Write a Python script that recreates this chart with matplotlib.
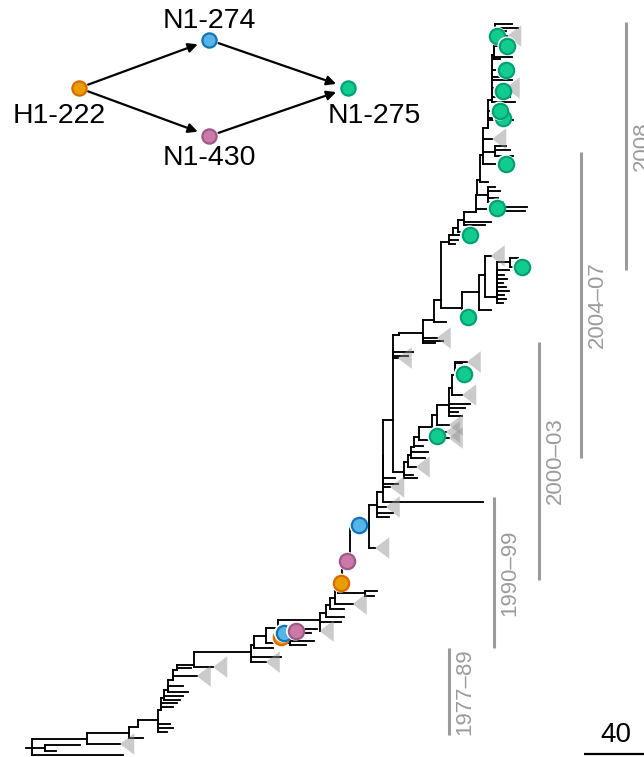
import matplotlib
matplotlib.use("Agg")
import matplotlib.pyplot as plt
from matplotlib.patches import Polygon

plt.rcParams["font.family"] = ["Liberation Sans", "DejaVu Sans"]

# tree nodes: (name, parent, divergence, tip position); tips have no name
basal = [
    ("r", None, 1, 1.8),
    ("", "r", 62, 0.4),
    ("a", "r", 10, 1.8),
    ("", "a", 33, 2.4),
    ("", "a", 17, 1.2),
    ("b", "r", 38, 3.6),
    ("", "b", 60, 2.6),
    ("c", "b", 66, 4.8),
    ("", "c", 75, 3.8),
    ("d", "c", 72, 6.0),
    ("e", "d", 85, 7.4),
    ("", "e", 93, 6.6),
    ("", "e", 95, 5.8),
    ("", "e", 91, 5.0),
    ("f", "e", 87, 9.4),
    ("", "f", 95, 10.0),
    ("", "f", 98, 10.8),
    ("g", "f", 89, 11.8),
    ("", "g", 100, 11.4),
    ("", "g", 102, 12.2),
    ("h", "g", 92, 13.4),
    ("", "h", 105, 13.0),
    ("", "h", 102, 14.2),
    ("i", "h", 95, 15.4),
    ("", "i", 111, 16.2),
    ("j", "i", 98, 17.4),
    ("", "j", 107, 17.8),
    ("k", "j", 109, 18.4),
    ("", "k", 122, 18.0),
]

clade_1990s = [
    ("m", "k", 147, 21.0),
    ("", "m", 167, 20.0),
    ("", "m", 157, 19.0),
    ("n", "m", 149, 22.4),
    ("", "n", 162, 21.8),
    ("o", "n", 157, 24.2),
    ("p", "o", 173, 22.8),
    ("", "p", 189, 23.2),
    ("", "p", 184, 22.4),
    ("q", "o", 165, 25.8),
    ("s", "q", 180, 25.2),
    ("", "s", 191, 25.6),
    ("", "s", 187, 24.8),
    ("t", "q", 193, 27.4),
    ("", "t", 193, 25.2),
    ("", "t", 207, 27.0),
    ("u", "t", 197, 28.8),
    ("", "u", 209, 28.0),
    ("v", "u", 200, 30.4),
    ("", "v", 209, 29.6),
    ("w", "v", 203, 31.8),
    ("", "w", 215, 30.6),
    ("x", "w", 205, 33.4),
    ("y", "x", 223, 32.8),
    ("", "y", 231, 33.2),
    ("", "y", 229, 32.2),
    ("z", "x", 208, 36.4),
    ("A", "z", 213, 38.4),
    ("B", "A", 226, 46.4),
    ("", "B", 230, 41.8),
    ("C", "B", 231, 50.4),
    ("", "C", 242, 48.8),
    ("", "C", 239, 48.0),
    ("", "C", 237, 50.0),
    ("D", "C", 235, 53.0),
    ("", "D", 302, 51.0),
    ("", "D", 240, 54.0),
    ("E", "D", 235, 60.4),
    ("", "E", 243, 55.8),
    ("", "E", 245, 54.6),
    ("F", "E", 242, 67.4),
]

clade_2000s = [
    ("G", "F", 249, 57.0),
    ("", "G", 258, 55.8),
    ("", "G", 255, 56.4),
    ("G1", "G", 252, 59.0),
    ("", "G1", 257, 58.0),
    ("G2", "G1", 254, 60.4),
    ("", "G2", 263, 59.8),
    ("", "G2", 265, 61.0),
    ("G3", "G2", 256, 62.0),
    ("", "G3", 262, 62.2),
    ("G4", "G3", 259, 64.0),
    ("", "G4", 273, 63.4),
    ("G5", "G4", 268, 66.0),
    ("", "G5", 277, 65.0),
    ("", "G5", 279, 63.8),
    ("G6", "G5", 271, 68.4),
    ("", "G6", 279, 66.4),
    ("G7", "G6", 279, 70.4),
    ("", "G7", 285, 69.0),
    ("", "G7", 290, 69.8),
    ("", "G7", 293, 70.6),
    ("", "G7", 288, 68.2),
    ("G8", "G7", 281, 73.8),
    ("", "G8", 288, 72.4),
    ("G9", "G8", 283, 76.4),
    ("", "G9", 288, 76.6),
    ("", "G9", 288, 78.8),
    ("", "G9", 291, 79.0),
]

clade_2004 = [
    ("H", "F", 242, 81.8),
    ("", "H", 255, 81.0),
    ("", "H", 252, 80.2),
    ("", "H", 245, 79.8),
    ("I", "H", 246, 84.4),
    ("J", "I", 262, 84.8),
    ("", "J", 275, 83.2),
    ("", "J", 270, 82.8),
    ("", "J", 271, 83.8),
    ("K", "J", 269, 87.4),
    ("", "K", 277, 87.0),
    ("L", "K", 274, 91.4),
    ("M", "L", 288, 89.8),
    ("", "M", 291, 88.2),
    ("M1", "M", 299, 93.0),
    ("", "M1", 307, 89.4),
    ("M2", "M1", 303, 96.4),
    ("", "M2", 307, 100.2),
    ("M3", "M2", 311, 92.0),
    ("", "M3", 315, 90.8),
    ("", "M3", 317, 91.6),
    ("", "M3", 316, 92.4),
    ("", "M3", 319, 93.2),
    ("", "M3", 317, 94.0),
    ("", "M3", 315, 94.8),
    ("", "M3", 318, 95.6),
    ("", "M3", 316, 96.4),
    ("", "M3", 319, 97.4),
    ("M4", "M3", 320, 99.0),
    ("", "M4", 325, 99.8),
    ("", "M4", 328, 98.0),
]

clade_2008 = [
    ("N", "L", 279, 103.0),
    ("", "N", 285, 103.4),
    ("", "N", 283, 102.6),
    ("N1", "N", 282, 104.4),
    ("", "N1", 293, 104.4),
    ("N2", "N1", 285, 105.8),
    ("", "N2", 291, 105.0),
    ("N3", "N2", 289, 107.4),
    ("", "N3", 307, 107.0),
    ("", "N3", 303, 106.4),
    ("N4", "N3", 297, 109.0),
    ("N4b", "N4", 315, 109.6),
    ("", "N4b", 331, 110.0),
    ("", "N4b", 330, 109.2),
    ("N5", "N4", 298, 112.4),
    ("N5a", "N5", 305, 112.4),
    ("", "N5a", 315, 111.0),
    ("", "N5a", 312, 111.8),
    ("", "N5a", 313, 113.2),
    ("", "N5a", 310, 114.0),
    ("N6", "N5", 300, 115.4),
    ("", "N6", 305, 115.0),
    ("N7", "N6", 302, 120.4),
    ("", "N7", 317, 118.6),
    ("N7a", "N7", 310, 121.0),
    ("", "N7a", 322, 120.2),
    ("", "N7a", 320, 121.4),
    ("", "N7a", 317, 122.2),
    ("", "N7", 308, 123.6),
    ("N8", "N7", 305, 125.8),
    ("", "N8", 317, 127.8),
    ("", "N8", 322, 127.4),
    ("", "N8", 313, 129.2),
    ("N9", "N8", 308, 131.4),
    ("", "N9", 323, 131.0),
    ("", "N9", 320, 132.0),
    ("", "N9", 317, 133.8),
    ("N10", "N9", 308, 136.4),
    ("", "N10", 321, 135.4),
    ("", "N10", 317, 136.0),
    ("", "N10", 317, 137.4),
    ("N11", "N10", 309, 140.4),
    ("", "N11", 321, 140.0),
    ("", "N11", 318, 142.2),
    ("", "N11", 313, 139.6),
    ("N12", "N11", 310, 144.4),
    ("", "N12", 325, 145.8),
    ("", "N12", 321, 146.6),
    ("", "N12", 317, 145.2),
    ("", "N12", 318, 144.2),
]

# collapsed clades (apex divergence, tip position)
collapsed_div = [60, 111, 122, 157, 193, 215, 230, 237, 240, 257, 277, 279,
                 279, 288, 291, 245, 271, 307, 308, 317, 318]
collapsed_pos = [2.6, 16.2, 18.0, 19.0, 25.2, 30.6, 41.8, 50.0, 54.0, 58.0, 65.0,
                 63.8, 66.4, 72.4, 79.0, 79.8, 83.8, 100.2, 123.6, 133.8, 144.2]

# branches carrying each substitution
h1_222_div = [167, 207]
h1_222_pos = [24.0, 34.8]
n1_274_div = [169, 219]
n1_274_pos = [24.8, 46.4]
n1_430_div = [177, 211]
n1_430_pos = [25.2, 39.2]
n1_275_div = [311, 318, 317, 315, 315, 313, 317, 311, 293, 328, 292, 289, 271]
n1_275_pos = [144.2, 142.2, 137.4, 133.2, 127.8, 129.2, 118.6, 109.8, 104.4,
              98.0, 88.0, 76.6, 64.2]

# sampling periods along the tree
eras = ["1977–89", "1990–99", "2000–03", "2004–07", "2008"]
era_div = [279, 309, 339, 367, 397]
era_lo = [4.4, 21.8, 35.4, 59.8, 97.4]
era_hi = [21.8, 52.0, 83.0, 121.0, 147.0]

scale_len = 40

# substitution order network
sites = ["H1-222", "N1-274", "N1-430", "N1-275"]
links = [("H1-222", "N1-274"), ("H1-222", "N1-430"),
         ("N1-274", "N1-275"), ("N1-430", "N1-275")]

fills = {"H1-222": "#e89e00", "N1-274": "#56b4e9",
         "N1-430": "#cc79a7", "N1-275": "#12cc8e"}
edges = {"H1-222": "#d86a00", "N1-274": "#1273b5",
         "N1-430": "#9c5a88", "N1-275": "#00a077"}

fig = plt.figure(figsize=(6.44, 7.57), dpi=100)
ax = fig.add_axes([0, 0, 1, 1])
ax.set_xlim(-20, 409.33)
ax.set_ylim(0, 151.4)
ax.axis("off")

tree = basal + clade_1990s + clade_2000s + clade_2004 + clade_2008
where = {name: (d, p) for name, parent, d, p in tree if name}

lw_tree = 1.35
for name, parent, d, p in tree:
    if parent is None:
        ax.plot([d - 4, d], [p, p], color="black", lw=lw_tree)
        continue
    pd, pp = where[parent]
    ax.plot([pd, d], [p, p], color="black", lw=lw_tree)
    ax.plot([pd, pd], [pp, p], color="black", lw=lw_tree)

tri_w, tri_h = 9.5, 4.3
for d, p in zip(collapsed_div, collapsed_pos):
    tri = Polygon([(d, p), (d + tri_w, p + tri_h / 2), (d + tri_w, p - tri_h / 2)],
                  closed=True, facecolor="#8c8c8c", edgecolor="none", alpha=0.45, zorder=3)
    ax.add_patch(tri)

for site, ds, ps in [("H1-222", h1_222_div, h1_222_pos),
                     ("N1-274", n1_274_div, n1_274_pos),
                     ("N1-430", n1_430_div, n1_430_pos),
                     ("N1-275", n1_275_div, n1_275_pos)]:
    for d, p in zip(ds, ps):
        ax.scatter([d], [p], s=190, c="white", edgecolors="none", zorder=4)
        ax.scatter([d], [p], s=122, c=fills[site], edgecolors=edges[site],
                   linewidths=1.6, zorder=4)

for label, d, lo, hi in zip(eras, era_div, era_lo, era_hi):
    ax.plot([d, d], [lo, hi], color="#9b9b9b", lw=2.2, solid_capstyle="butt")
    ax.annotate(label, xy=(d, (lo + hi) / 2), xytext=(12, 0), textcoords="offset points",
                rotation=90, ha="center", va="center", fontsize=16, color="#9b9b9b")

x1 = 409.33
ax.plot([x1 - scale_len, x1], [0.6, 0.6], color="black", lw=1.6, solid_capstyle="butt")
ax.annotate(str(scale_len), xy=(x1 - scale_len / 2 + 1, 0.6), xytext=(0, 4),
            textcoords="offset points", ha="center", va="bottom", fontsize=20)

# inset: order in which the substitutions arose
ax2 = fig.add_axes([79 / 644, 1 - 136 / 757, 269 / 644, 96 / 757])
ax2.set_xlim(0, 1)
ax2.set_ylim(0, 1)
ax2.axis("off")
layout = {"H1-222": (0, 0.5), "N1-274": (0.485, 1), "N1-430": (0.485, 0), "N1-275": (1, 0.5)}
label_offset = {"H1-222": (-14, -20), "N1-274": (0, 14), "N1-430": (0, -16), "N1-275": (19, -20)}

for a, b in links:
    ax2.annotate("", xy=layout[b], xytext=layout[a],
                 arrowprops=dict(arrowstyle="-|>", color="black", lw=1.6,
                                 shrinkA=7, shrinkB=9, mutation_scale=14))
for site in sites:
    x, y = layout[site]
    ax2.scatter([x], [y], s=105, c=fills[site], edgecolors=edges[site],
                linewidths=1.6, zorder=4, clip_on=False)
    ax2.annotate(site, xy=(x, y), xytext=label_offset[site], textcoords="offset points",
                 ha="center", va="center", fontsize=20.5)

fig.savefig("out.png", dpi=100)
